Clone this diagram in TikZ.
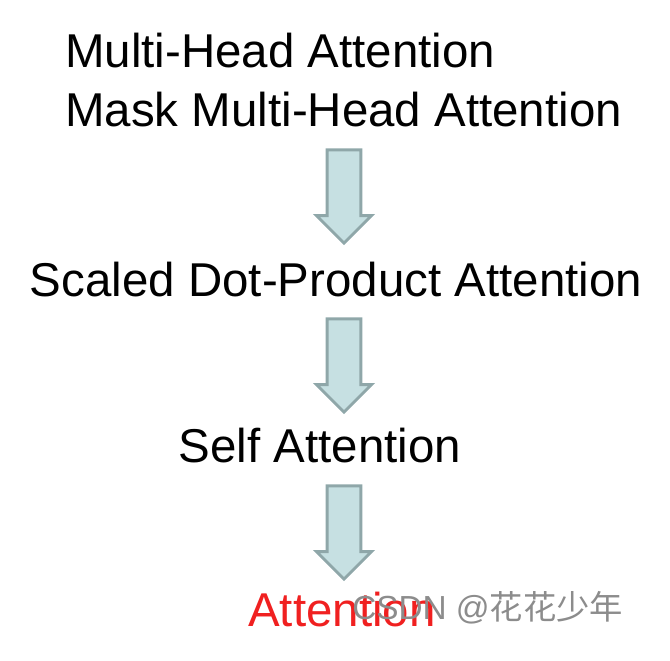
\documentclass[tikz,border=0pt]{standalone}
\usepackage{fontspec}
\setmainfont{Liberation Sans}
\newfontfamily\cjkfont{Noto Sans CJK SC}
\usepackage{tikz}
\usetikzlibrary{shapes.arrows,positioning}
\definecolor{arrowfill}{HTML}{C6E0E2}
\definecolor{arrowline}{HTML}{8FA7A9}
\definecolor{attnred}{HTML}{F02020}

\begin{document}
\begin{tikzpicture}[x=0.75pt,y=-0.75pt,
    label/.style={inner sep=0pt,font=\fontsize{35.6pt}{40pt}\selectfont},
    blockarrow/.style={single arrow,draw=arrowline,fill=arrowfill,line width=2.2pt,
      rotate=-90,minimum height=70pt,inner xsep=0pt,inner ysep=11.6pt,
      single arrow head extend=8pt,single arrow head indent=0pt}]
    \useasboundingbox (0,0) rectangle (670,660);
    \node[label,anchor=base west] (mha) at (65,68) {Multi-Head Attention};
    \node[label,anchor=base west] (mmha) at (65,126) {Mask Multi-Head Attention};
    \node[label,anchor=base] (sdpa) at (336,296) {Scaled Dot-Product Attention};
    \node[label,anchor=base] (self) at (320,462) {Self Attention};
    \node[label,anchor=base,text=attnred] (attn) at (342,626) {Attention};
    \foreach \i/\y in {1/188,2/357,3/524}{
      \node[blockarrow] (arr\i) at (344,\y) {};
    }
    % watermark
    \node[anchor=base west,inner sep=0pt,text=black!45,font=\fontsize{25pt}{30pt}\selectfont] (mark) at (352,619) {CSDN @{\cjkfont 花花少年}};
  \end{tikzpicture}
\end{document}
